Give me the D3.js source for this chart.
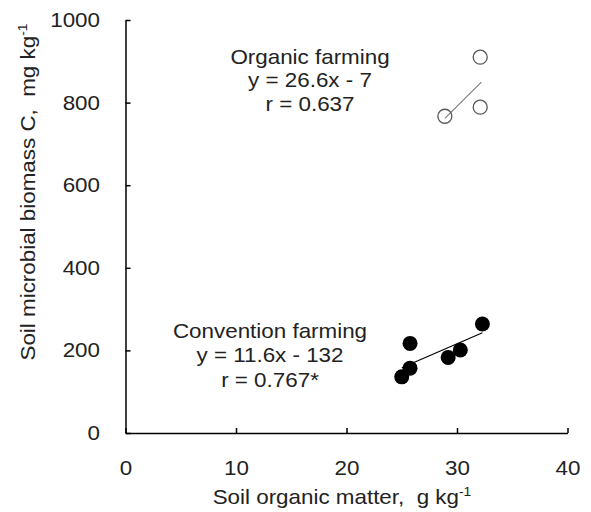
<!DOCTYPE html>
<html><head><meta charset="utf-8">
<script src="https://cdn.jsdelivr.net/npm/d3@7"></script>
<style>
body{margin:0;background:#fff;}
text{font-family:"Liberation Sans",Arial,sans-serif;fill:#222;white-space:pre;}
</style></head>
<body><div id="chart"></div>
<script>
// Data
const organicX = [32.1, 32.1, 28.9];
const organicY = [910, 789, 767];
const conventionalX = [25.0, 25.75, 25.75, 29.2, 30.3, 32.3];
const conventionalY = [136, 157, 217, 183, 201, 264];
const organicFit = {slope: 26.6, intercept: -7, x0: 28.9, x1: 32.2};
const conventionalFit = {slope: 11.6, intercept: -132, x0: 25.0, x1: 32.3};
const organicLabels = ["Organic farming", "y = 26.6x - 7", "r = 0.637"];
const conventionalLabels = ["Convention farming", "y = 11.6x - 132", "r = 0.767*"];
const xTicks = [0, 10, 20, 30, 40];
const yTicks = [0, 200, 400, 600, 800, 1000];

const W = 591, H = 512, FS = 20, SX = 1.12;
const svg = d3.select("#chart").append("svg").attr("width", W).attr("height", H);

const x = d3.scaleLinear().domain([0, 40]).range([125.5, 567.5]);
const y = d3.scaleLinear().domain([0, 1000]).range([433, 20]);

// Axes
const yAxis = d3.axisLeft(y).tickValues(yTicks).tickFormat(d3.format("d")).tickSizeInner(-5).tickSizeOuter(0).tickPadding(25.5 / SX);
const xAxis = d3.axisBottom(x).tickValues(xTicks).tickFormat(d3.format("d")).tickSizeInner(-5).tickSizeOuter(0).tickPadding(28);

const gy = svg.append("g").attr("transform", `translate(${x(0)},0)`).call(yAxis);
const gx = svg.append("g").attr("transform", `translate(0,${y(0)})`).call(xAxis);
[gx, gy].forEach(g => {
  g.select(".domain").attr("stroke", "#000").attr("stroke-width", 1.5);
  g.selectAll(".tick line").attr("stroke", "#000").attr("stroke-width", 1.5);
  g.selectAll(".tick text").attr("font-size", FS).attr("fill", "#222")
    .attr("font-family", "Liberation Sans, Arial, sans-serif")
    .attr("transform", `scale(${SX},1)`);
});

// Helper for text
function label(px, py, str, anchor, sup, rot) {
  const t = svg.append("text")
    .attr("transform", `translate(${px},${py})` + (rot ? ` rotate(${rot})` : "") + ` scale(${SX},1)`)
    .attr("text-anchor", anchor).attr("font-size", FS);
  t.append("tspan").text(str);
  if (sup) t.append("tspan").attr("font-size", FS * 0.62).attr("dy", -8).text(sup);
  return t;
}

// Axis titles
label(342, 504, "Soil organic matter,  g kg", "middle", "-1");
label(35, 192, "Soil microbial biomass C,  mg kg", "middle", "-1", -90);

// Regression lines
const line = d3.line().x(d => x(d[0])).y(d => y(d[1]));
function fitPts(f) { return [f.x0, f.x1].map(v => [v, f.slope * v + f.intercept]); }
svg.append("path").attr("d", line(fitPts(organicFit))).attr("stroke", "#808080").attr("stroke-width", 1.2).attr("fill", "none");

// Points
svg.append("g").selectAll("circle").data(d3.range(organicX.length)).join("circle")
  .attr("cx", i => x(organicX[i])).attr("cy", i => y(organicY[i])).attr("r", 7)
  .attr("fill", "none").attr("stroke", "#555").attr("stroke-width", 1.3);
svg.append("g").selectAll("circle").data(d3.range(conventionalX.length)).join("circle")
  .attr("cx", i => x(conventionalX[i])).attr("cy", i => y(conventionalY[i])).attr("r", 7.5)
  .attr("fill", "#000");
svg.append("path").attr("d", line(fitPts(conventionalFit))).attr("stroke", "#000").attr("stroke-width", 1.2).attr("fill", "none");

// Annotations
const orgBase = [64, 87, 111];
organicLabels.forEach((s, i) => label(310, orgBase[i], s, "middle"));
const conBase = [338, 362, 387];
conventionalLabels.forEach((s, i) => label(270, conBase[i], s, "middle"));
</script></body></html>
